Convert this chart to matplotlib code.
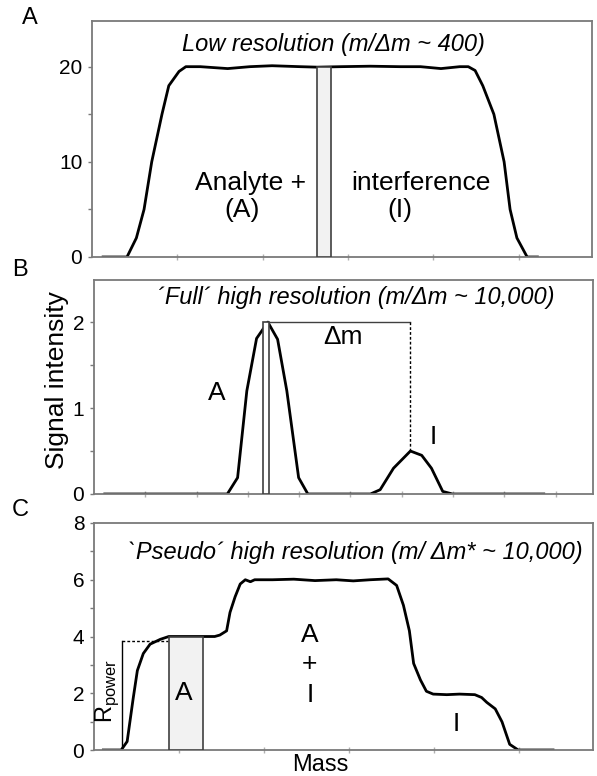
import matplotlib
matplotlib.use("Agg")
import matplotlib.pyplot as plt
from matplotlib.ticker import MultipleLocator, NullFormatter

plt.rcParams['font.family'] = ['Liberation Sans', 'DejaVu Sans']

# --- panel A: low resolution, one broad flat-topped signal ---
massA = [0.13, 0.41, 0.52, 0.61, 0.70, 0.82, 0.90, 1.02, 1.10, 1.27, 1.59, 1.85, 2.11,
         2.44, 2.64, 2.91, 3.26, 3.61, 3.85, 4.09, 4.31, 4.41, 4.49, 4.58, 4.71, 4.83,
         4.90, 4.98, 5.10, 5.22]
sigA = [0, 0, 2, 5, 10, 15, 18, 19.5, 20, 20, 19.8, 20, 20.1,
        20, 19.95, 20, 20.05, 20, 20, 19.8, 20, 20, 19.6, 18, 15, 10,
        5, 2, 0, 0]
binA = (2.64, 2.80, 20)          # window start, end, height

# --- panel B: full high resolution, two separate peaks ---
massB = [0.21, 2.60, 2.80, 2.98, 3.17, 3.39, 3.58, 3.76, 3.99, 4.17,
         5.39, 5.58, 5.84, 6.17, 6.39, 6.58, 6.80, 6.99, 8.77]
sigB = [0, 0, 0.19, 1.2, 1.81, 2.0, 1.8, 1.2, 0.19, 0,
        0, 0.05, 0.3, 0.5, 0.45, 0.3, 0.03, 0, 0]
binB = (3.29, 3.41, 2.0)
peakA_B = (3.39, 2.0)
peakI_B = (6.17, 0.5)

# --- panel C: pseudo high resolution, stepped profile ---
massC = [0.11, 0.32, 0.39, 0.46, 0.51, 0.58, 0.66, 0.78, 0.88, 1.20, 1.42, 1.48,
         1.56, 1.60, 1.66, 1.72, 1.78, 1.84, 1.89, 2.10, 2.35, 2.60, 2.85, 3.05,
         3.25, 3.46, 3.56, 3.64, 3.71, 3.76, 3.84, 3.91, 3.99, 4.15, 4.30, 4.48,
         4.56, 4.62, 4.72, 4.80, 4.85, 4.89, 4.99, 5.40]
sigC = [0, 0, 0.3, 1.8, 2.8, 3.4, 3.73, 3.9, 4.0, 4.0, 4.0, 4.05,
        4.2, 4.85, 5.4, 5.85, 6.0, 5.93, 6.0, 6.0, 6.02, 5.97, 6.0, 5.96,
        6.0, 6.03, 5.8, 5.1, 4.2, 3.05, 2.47, 2.07, 1.97, 1.95, 1.97, 1.95,
        1.85, 1.68, 1.45, 0.99, 0.55, 0.2, 0, 0]
binC = (0.88, 1.28, 4.0)
rpower = (0.33, 0.87, 3.84)      # x of bar, x of dashed end, height

line_col = 'black'
spine_col = '#7a7a7a'
edge_col = '#404040'
fill_col = '#f2f2f2'
title_size = 17
note_size = 19

fig = plt.figure(figsize=(5.97, 7.76), dpi=100)
W, H = 597, 776


def px_axes(left, top, right, bottom):
    return fig.add_axes([left / W, 1 - bottom / H, (right - left) / W, (bottom - top) / H])


def style(ax, xlim, ylim, major, minor, xticks):
    ax.set_xlim(*xlim)
    ax.set_ylim(*ylim)
    for s in ax.spines.values():
        s.set_color(spine_col)
        s.set_linewidth(1.3)
    ax.yaxis.set_major_locator(MultipleLocator(major))
    ax.yaxis.set_minor_locator(MultipleLocator(minor))
    ax.set_xticks(xticks)
    ax.xaxis.set_major_formatter(NullFormatter())
    ax.tick_params(axis='y', which='both', direction='out', length=3, width=1,
                   color=spine_col, labelsize=15, pad=4)
    ax.tick_params(axis='x', direction='inout', length=4, width=1, color='#b0b0b0')


# Panel A
axA = px_axes(92, 21, 592, 257)
style(axA, (0, 5.86), (0, 24.8), 10, 5, [1, 2, 3, 4, 5])
axA.plot(massA, sigA, color=line_col, lw=2)
axA.bar(binA[0], binA[2], width=binA[1] - binA[0], align='edge',
        color=fill_col, edgecolor=edge_col, lw=1.2, zorder=3)
axA.text(0.482, 0.90, 'Low resolution (m/\u0394m ~ 400)', transform=axA.transAxes,
         ha='center', va='center', style='italic', fontsize=title_size)
axA.text(1.86, 7.8, 'Analyte +', ha='center', va='center', fontsize=note_size)
axA.text(1.76, 4.9, '(A)', ha='center', va='center', fontsize=note_size)
axA.text(3.85, 7.8, 'interference', ha='center', va='center', fontsize=note_size)
axA.text(3.61, 4.9, '(I)', ha='center', va='center', fontsize=note_size)

# Panel B
axB = px_axes(94, 280, 593, 494)
style(axB, (0, 9.73), (0, 2.49), 1, 0.5, range(1, 10))
axB.plot(massB, sigB, color=line_col, lw=2)
axB.bar(binB[0], binB[2], width=binB[1] - binB[0], align='edge',
        color='white', edgecolor=edge_col, lw=1.2, zorder=3)
axB.plot([peakA_B[0], peakI_B[0]], [peakA_B[1], peakA_B[1]], color=edge_col, lw=1)
axB.plot([peakI_B[0], peakI_B[0]], [peakI_B[1], peakA_B[1]], color='black', lw=1,
         ls=(0, (2, 1.5)))
axB.text(0.525, 0.92, '\u00b4Full\u00b4 high resolution (m/\u0394m ~ 10,000)',
         transform=axB.transAxes, ha='center', va='center', style='italic',
         fontsize=title_size)
axB.text(2.40, 1.17, 'A', ha='center', va='center', fontsize=note_size)
axB.text(4.85, 1.83, '\u0394m', ha='center', va='center', fontsize=note_size)
axB.text(6.61, 0.66, 'I', ha='center', va='center', fontsize=note_size)

# Panel C
axC = px_axes(94, 523, 593, 750)
style(axC, (0, 5.87), (0, 8), 2, 1, [1, 2, 3, 4, 5])
axC.plot(massC, sigC, color=line_col, lw=2)
axC.bar(binC[0], binC[2], width=binC[1] - binC[0], align='edge',
        color=fill_col, edgecolor=edge_col, lw=1.2, zorder=3)
axC.plot([rpower[0], rpower[0]], [0, rpower[2]], color='black', lw=1)
axC.plot([rpower[0], rpower[1]], [rpower[2], rpower[2]], color='black', lw=1,
         ls=(0, (2, 1.5)))
axC.text(0.523, 0.868, '`Pseudo\u00b4 high resolution (m/ \u0394m* ~ 10,000)',
         transform=axC.transAxes, ha='center', va='center', style='italic',
         fontsize=title_size)
axC.text(0.15, 2.07, r'R$_{\mathregular{power}}$', rotation=90, ha='center', va='center',
         fontsize=17)
axC.text(1.06, 2.0, 'A', ha='center', va='center', fontsize=note_size)
axC.text(2.54, 4.07, 'A', ha='center', va='center', fontsize=note_size)
axC.text(2.54, 3.04, '+', ha='center', va='center', fontsize=note_size)
axC.text(2.54, 1.95, 'I', ha='center', va='center', fontsize=note_size)
axC.text(4.26, 0.92, 'I', ha='center', va='center', fontsize=note_size)

# panel letters and shared axis titles
fig.text(30 / W, 1 - 18 / H, 'A', ha='center', va='center', fontsize=17)
fig.text(20 / W, 1 - 270 / H, 'B', ha='center', va='center', fontsize=17)
fig.text(20 / W, 1 - 510 / H, 'C', ha='center', va='center', fontsize=17)
fig.text(57 / W, 1 - 380 / H, 'Signal intensity', rotation=90, ha='center', va='center',
         fontsize=19)
fig.text(320 / W, 1 - 765 / H, 'Mass', ha='center', va='center', fontsize=17)

fig.savefig('out.png', dpi=100)
